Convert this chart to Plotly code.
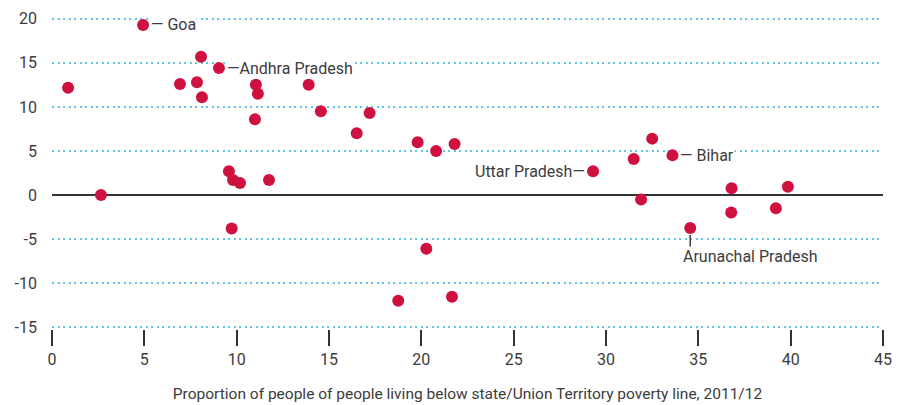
import plotly.graph_objects as go

# Proportion below poverty line (x) vs change (y)
poverty = [0.87, 2.65, 4.93, 6.93, 7.85, 8.07, 8.12, 9.04, 9.58, 9.80, 10.18, 9.73,
           11.04, 11.15, 10.99, 11.75, 13.90, 14.56, 16.50, 17.20, 19.80, 20.80,
           21.80, 20.27, 18.75, 21.66, 29.30, 31.50, 32.50, 33.60, 31.90, 36.80,
           39.85, 36.78, 39.20, 34.56]
change = [12.16, 0.0, 19.3, 12.6, 12.8, 15.7, 11.1, 14.4, 2.7, 1.7, 1.36, -3.8,
          12.5, 11.5, 8.6, 1.7, 12.5, 9.5, 7.0, 9.3, 6.0, 5.0,
          5.8, -6.1, -12.0, -11.55, 2.7, 4.1, 6.4, 4.5, -0.5, 0.76,
          0.95, -1.97, -1.5, -3.75]

# Labelled states
label_names = ["Goa", "Andhra Pradesh", "Uttar Pradesh", "Bihar", "Arunachal Pradesh"]
label_x = [4.93, 9.04, 29.30, 33.60, 34.56]
label_y = [19.3, 14.4, 2.7, 4.5, -3.75]

x_ticks = [0, 5, 10, 15, 20, 25, 30, 35, 40, 45]
y_ticks = [-15, -10, -5, 0, 5, 10, 15, 20]

FONT = "Roboto, Liberation Sans, sans-serif"
TEXT = "#3c3c3c"
RED = "#cf1140"
GRID = "#5cc6ea"

fig = go.Figure()
fig.add_trace(go.Scatter(
    x=poverty, y=change, mode="markers",
    marker=dict(color=RED, size=12, line=dict(width=0)),
    hoverinfo="skip", showlegend=False,
))

styles = {
    "Goa": dict(text="— Goa", xanchor="left", yanchor="middle", xshift=7, yshift=0),
    "Andhra Pradesh": dict(text="—Andhra Pradesh", xanchor="left", yanchor="middle", xshift=7, yshift=0),
    "Uttar Pradesh": dict(text="Uttar Pradesh—", xanchor="right", yanchor="middle", xshift=-7, yshift=0),
    "Bihar": dict(text="— Bihar", xanchor="left", yanchor="middle", xshift=7, yshift=0),
    "Arunachal Pradesh": dict(text="Arunachal Pradesh", xanchor="left", yanchor="top", xshift=-8, yshift=-18),
}
for n, lx, ly in zip(label_names, label_x, label_y):
    s = styles[n]
    fig.add_annotation(x=lx, y=ly, xref="x", yref="y", showarrow=False,
                       text=s["text"], xanchor=s["xanchor"], yanchor=s["yanchor"],
                       xshift=s["xshift"], yshift=s["yshift"],
                       font=dict(family=FONT, size=16, color=TEXT),
                       bgcolor="white", borderpad=0)
    if n == "Arunachal Pradesh":
        fig.add_shape(type="line", xref="x", yref="y",
                      xsizemode="pixel", ysizemode="pixel",
                      xanchor=lx, yanchor=ly, x0=0, x1=0, y0=-7, y1=-21,
                      line=dict(color=TEXT, width=1.5))

fig.update_layout(
    width=902, height=405,
    margin=dict(l=52, r=19, t=17, b=76, autoexpand=False),
    paper_bgcolor="white", plot_bgcolor="white",
    font=dict(family=FONT, size=16, color=TEXT),
    xaxis=dict(
        range=[0, 45], tickvals=x_ticks, ticktext=[str(v) for v in x_ticks],
        showgrid=False, zeroline=False, showline=False, automargin=False,
        ticks="outside", ticklen=16, tickwidth=1.5, tickcolor="#333333",
        tickfont=dict(family=FONT, size=16, color=TEXT),
        title=dict(text="Proportion of people of people living below state/Union Territory poverty line, 2011/12",
                   font=dict(family=FONT, size=15.5, color=TEXT), standoff=19),
    ),
    yaxis=dict(
        range=[-15.2, 20.2], tickvals=y_ticks, ticktext=[str(v) for v in y_ticks],
        showgrid=True, gridcolor=GRID, griddash="2px,3.5px", gridwidth=1.5,
        zeroline=True, zerolinecolor="#333333", zerolinewidth=1.5,
        showline=False, ticks="", ticklabelstandoff=14, automargin=False,
        tickfont=dict(family=FONT, size=16, color=TEXT),
    ),
)

fig.write_html("out.html", config={"displayModeBar": False},
               post_script="document.body.style.margin='0';document.body.style.overflow='hidden';")
